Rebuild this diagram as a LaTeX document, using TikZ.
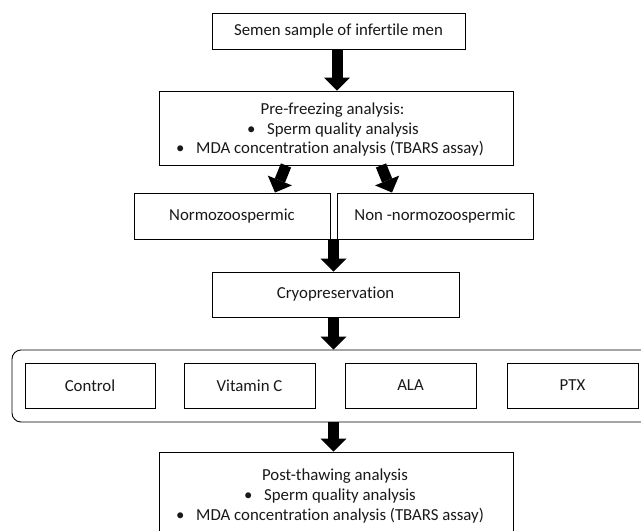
\documentclass[tikz,border=0pt]{standalone}
\usepackage{fontspec}
\setmainfont{Carlito}[Ligatures={NoCommon}]
\usetikzlibrary{arrows.meta,calc}
\newcommand{\bul}{\makebox[32pt]{•}}
\begin{document}
\begin{tikzpicture}[x=1pt,y=-1pt]
\tikzset{
  box/.style={draw=black, line width=0.9pt, rectangle, inner sep=0pt, font=\fontsize{16.8}{20}\selectfont, text=black!90},
  lbl/.style={font=\fontsize{16.8}{20}\selectfont, text=black!90, inner sep=0pt},
  blk/.style={line width=11pt, line cap=butt, -{Triangle[width=26pt,length=13pt,line width=0pt]}},
}
\useasboundingbox (0,0) rectangle (641,531);
\clip (0,0) rectangle (641,531);
\fill[white] (0,0) rectangle (641,531);

\node[box, minimum width=253pt, minimum height=36pt] (top) at (338.5,31) {Semen sample of infertile men};

\node[box, minimum width=354pt, minimum height=74pt] (pre) at (336,128) {};
\node[lbl, anchor=base] (pre1) at (332.5,114) {Pre-freezing analysis:};
\node[lbl, anchor=base west] (pre2) at (235,134) {\bul Sperm quality analysis};
\node[lbl, anchor=base west] (pre3) at (164,153) {\bul MDA concentration analysis (TBARS assay)};

\node[box, minimum width=196pt, minimum height=46pt] (normo) at (232,216) {Normozoospermic};
\node[box, minimum width=196pt, minimum height=46pt] (non) at (435,216) {Non -normozoospermic};

\node[box, minimum width=247pt, minimum height=45pt] (cryo) at (335.5,294.5) {Cryopreservation};

\node[draw=black, line width=0.9pt, rounded corners=9pt, minimum width=648pt, minimum height=72pt, inner sep=0pt] (group) at (336,386) {};
\node[box, minimum width=130pt, minimum height=45pt] (ctrl) at (90,385.5) {Control};
\node[box, minimum width=131pt, minimum height=45pt] (vitc) at (249.5,385.5) {Vitamin C};
\node[box, minimum width=131pt, minimum height=45pt] (ala) at (410.5,385.5) {ALA};
\node[box, minimum width=131pt, minimum height=45pt] (ptx) at (572.5,385.5) {PTX};

\node[box, minimum width=354pt, minimum height=100pt] (post) at (336,502) {};
\node[lbl, anchor=base] (post1) at (335,480) {Post-thawing analysis};
\node[lbl, anchor=base west] (post2) at (232,500) {\bul Sperm quality analysis};
\node[lbl, anchor=base west] (post3) at (164,520) {\bul MDA concentration analysis (TBARS assay)};

\coordinate (mid) at ($(normo.south east)!0.5!(non.south west)$);
\draw[blk] ([xshift=-1.5pt]top.south) -- ([xshift=-1.5pt]top.south |- pre.north);
\draw[blk] ([xshift=-50pt]pre.south) -- ([xshift=43pt]normo.north);
\draw[blk] ([xshift=45pt]pre.south) -- ([xshift=-43pt]non.north);
\draw[blk] (mid) -- (mid |- cryo.north);
\draw[blk] (mid |- cryo.south) -- (mid |- group.north);
\draw[blk] (mid |- group.south) -- (mid |- post.north);
\end{tikzpicture}
\end{document}
